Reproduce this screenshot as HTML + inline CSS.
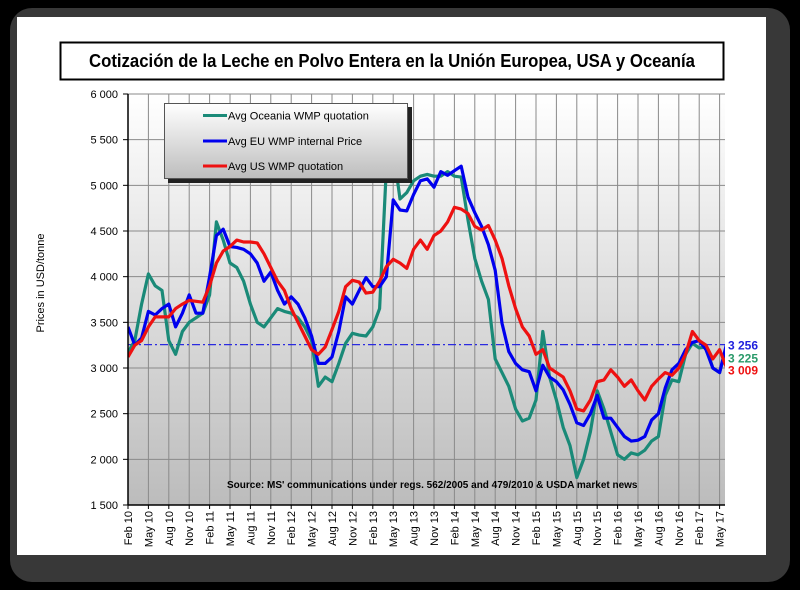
<!DOCTYPE html>
<html><head><meta charset="utf-8"><title>WMP prices</title>
<style>
html,body{margin:0;padding:0;background:#000;}
svg{display:block;font-family:"Liberation Sans",Arial,sans-serif;}
</style></head>
<body>
<svg id="chart" width="800" height="590" viewBox="0 0 800 590">
<defs>
<linearGradient id="plotbg" x1="0" y1="0" x2="0" y2="1">
<stop offset="0" stop-color="#ffffff"/><stop offset="1" stop-color="#bcbcbc"/></linearGradient>
<linearGradient id="legbg" x1="0" y1="0" x2="0" y2="1">
<stop offset="0" stop-color="#ffffff"/><stop offset="1" stop-color="#bdbdbd"/></linearGradient>
<clipPath id="plotclip"><rect x="128" y="94" width="597" height="411"/></clipPath>
</defs>
<rect x="10" y="8" width="780" height="574" rx="22" fill="#383838"/>
<rect x="17" y="17" width="749" height="538" fill="#ffffff"/>
<rect x="60.5" y="42.5" width="663" height="37" fill="#fff" stroke="#000" stroke-width="2"/>
<text x="392" y="67" text-anchor="middle" font-size="18" font-weight="bold" textLength="606" lengthAdjust="spacingAndGlyphs">Cotización de la Leche en Polvo Entera en la Unión Europea, USA y Oceanía</text>
<rect x="128" y="94" width="597" height="411" fill="url(#plotbg)"/>
<g id="grid"></g>
<g id="series" clip-path="url(#plotclip)"></g>
<g id="axes"></g>
<text transform="translate(44,283) rotate(-90)" text-anchor="middle" font-size="11">Prices in USD/tonne</text>
<text x="227" y="488" font-size="10" font-weight="bold">Source: MS' communications under regs. 562/2005 and 479/2010 &amp; USDA market news</text>
<g>
<rect x="168" y="107" width="244" height="76" fill="#222"/>
<rect x="164.5" y="103.5" width="243" height="75" fill="url(#legbg)" stroke="#555"/>
<line x1="203" y1="115.5" x2="227" y2="115.5" stroke="#1a8a78" stroke-width="3"/>
<text x="228" y="119.5" font-size="11">Avg Oceania WMP quotation</text>
<line x1="203" y1="141" x2="227" y2="141" stroke="#0000ee" stroke-width="3"/>
<text x="228" y="145" font-size="11">Avg EU WMP internal Price</text>
<line x1="203" y1="166" x2="227" y2="166" stroke="#ee1111" stroke-width="3"/>
<text x="228" y="170" font-size="11">Avg US WMP quotation</text>
</g>
<g id="endlabels"></g>
</svg>
<script>
const yTicks = [1500,2000,2500,3000,3500,4000,4500,5000,5500,6000];
const yTickLabels = ["1 500","2 000","2 500","3 000","3 500","4 000","4 500","5 000","5 500","6 000"];
const xTickLabels = ["Feb 10","May 10","Aug 10","Nov 10","Feb 11","May 11","Aug 11","Nov 11","Feb 12","May 12","Aug 12","Nov 12","Feb 13","May 13","Aug 13","Nov 13","Feb 14","May 14","Aug 14","Nov 14","Feb 15","May 15","Aug 15","Nov 15","Feb 16","May 16","Aug 16","Nov 16","Feb 17","May 17"];
const oceania = [3170,3300,3700,4030,3900,3850,3300,3150,3400,3500,3550,3600,3800,4600,4400,4150,4100,3950,3700,3500,3450,3550,3650,3620,3600,3550,3450,3300,2800,2900,2850,3050,3270,3380,3360,3350,3450,3650,5200,5400,4850,4920,5050,5100,5120,5100,5100,5150,5100,5090,4620,4200,3950,3750,3100,2950,2800,2550,2420,2450,2650,3400,2900,2650,2350,2150,1800,2000,2300,2750,2550,2300,2050,2000,2070,2050,2100,2200,2250,2700,2870,2850,3150,3270,3220,3230,3000,2950,3225];
const eu = [3450,3250,3330,3620,3580,3650,3700,3450,3600,3800,3600,3600,4000,4450,4520,4330,4320,4300,4250,4150,3950,4050,3850,3700,3780,3700,3550,3350,3050,3050,3120,3400,3780,3700,3850,3990,3890,3890,4000,4840,4730,4720,4900,5050,5070,4980,5150,5110,5160,5210,4870,4700,4550,4350,4070,3490,3180,3050,2980,2960,2750,3030,2900,2850,2760,2600,2400,2370,2500,2700,2450,2450,2350,2250,2200,2210,2250,2430,2500,2780,2980,3050,3200,3280,3300,3200,3000,2950,3256];
const us = [3120,3250,3300,3450,3560,3560,3560,3650,3700,3740,3730,3720,3900,4150,4280,4330,4400,4380,4380,4370,4250,4100,3950,3850,3650,3500,3350,3200,3150,3230,3420,3620,3890,3960,3940,3820,3830,3950,4110,4190,4150,4090,4300,4400,4300,4450,4500,4600,4760,4740,4690,4550,4510,4560,4400,4200,3900,3650,3450,3350,3150,3200,3000,2950,2900,2750,2550,2530,2650,2850,2870,2980,2900,2800,2870,2750,2650,2800,2880,2950,2920,3000,3150,3400,3300,3250,3100,3200,3009];
const refValue = 3256;
const endValues = [3256,3225,3009];
const endLabelTexts = ["3 256","3 225","3 009"];

const NS = "http://www.w3.org/2000/svg";
const X0 = 128, X1 = 725, Y0 = 505, Y1 = 94, MONTH = 20.4/3;
function x(m){ return X0 + m*MONTH; }
function y(v){ return Y0 - (v-1500)/(6000-1500)*(Y0-Y1); }
function mk(tag, attrs, parent){ const e=document.createElementNS(NS,tag); for(const k in attrs) e.setAttribute(k,attrs[k]); parent.appendChild(e); return e; }

const grid = document.getElementById('grid'), axes = document.getElementById('axes');
yTicks.forEach((v,i)=>{
  const l = mk('line',{x1:X0,x2:X1,y1:y(v),y2:y(v),stroke:'#8a8a8a','stroke-width':1},grid);
  
  
  const t = mk('line',{x1:X0-5,x2:X0,y1:y(v),y2:y(v),stroke:'#000'},axes);
  
  
  const tx = mk('text',{x:118,y:y(v)+4,'text-anchor':'end','font-size':11},axes);
  
  
  tx.textContent = yTickLabels[i];
});
xTickLabels.forEach((lab,i)=>{
  const xx = x(i*3);
  const l = mk('line',{x1:xx,x2:xx,y1:Y1,y2:Y0,stroke:'#8a8a8a','stroke-width':1},grid);
  
  
  const t = mk('line',{x1:xx,x2:xx,y1:Y0,y2:Y0+4,stroke:'#000'},axes);
  
  
  const tx = mk('text',{transform:`translate(${xx+4},${Y0+6}) rotate(-90)`,'text-anchor':'end','font-size':11},axes);
  
  
  tx.textContent = lab;
});
const ax1 = mk('line',{x1:X0,x2:X0,y1:Y1,y2:Y0,stroke:'#000','stroke-width':1.5},axes);


const ax2 = mk('line',{x1:X0,x2:X1,y1:Y0,y2:Y0,stroke:'#000','stroke-width':1.5},axes);



const series = document.getElementById('series');
const ref = mk('line',{x1:X0,x2:X1,y1:y(refValue),y2:y(refValue),stroke:'#2a2ae0','stroke-width':1.2,'stroke-dasharray':'8,3,2,3'},series);


function drawLine(vals,color,name){
  const d = vals.map((v,i)=>(i?'L':'M')+x(i).toFixed(1)+','+y(v).toFixed(1)).join(' ');
  const p = mk('path',{d:d,fill:'none',stroke:color,'stroke-width':3.2,'stroke-linejoin':'round'},series);
  
  
}
drawLine(oceania,'#1a8a78','oceania-line');
drawLine(eu,'#0000ee','eu-line');
drawLine(us,'#ee1111','us-line');

const el = document.getElementById('endlabels');
const endColors = ['#2222dd','#2a9a6a','#ee1111'];
const endY = [y(endValues[0])+5, y(endValues[0])+18, y(endValues[0])+30];
endLabelTexts.forEach((t,i)=>{
  const tx = mk('text',{x:728,y:endY[i],'font-size':12,'font-weight':'bold',fill:endColors[i]},el);
  
  
  tx.textContent = t;
});
</script>
</body></html>
